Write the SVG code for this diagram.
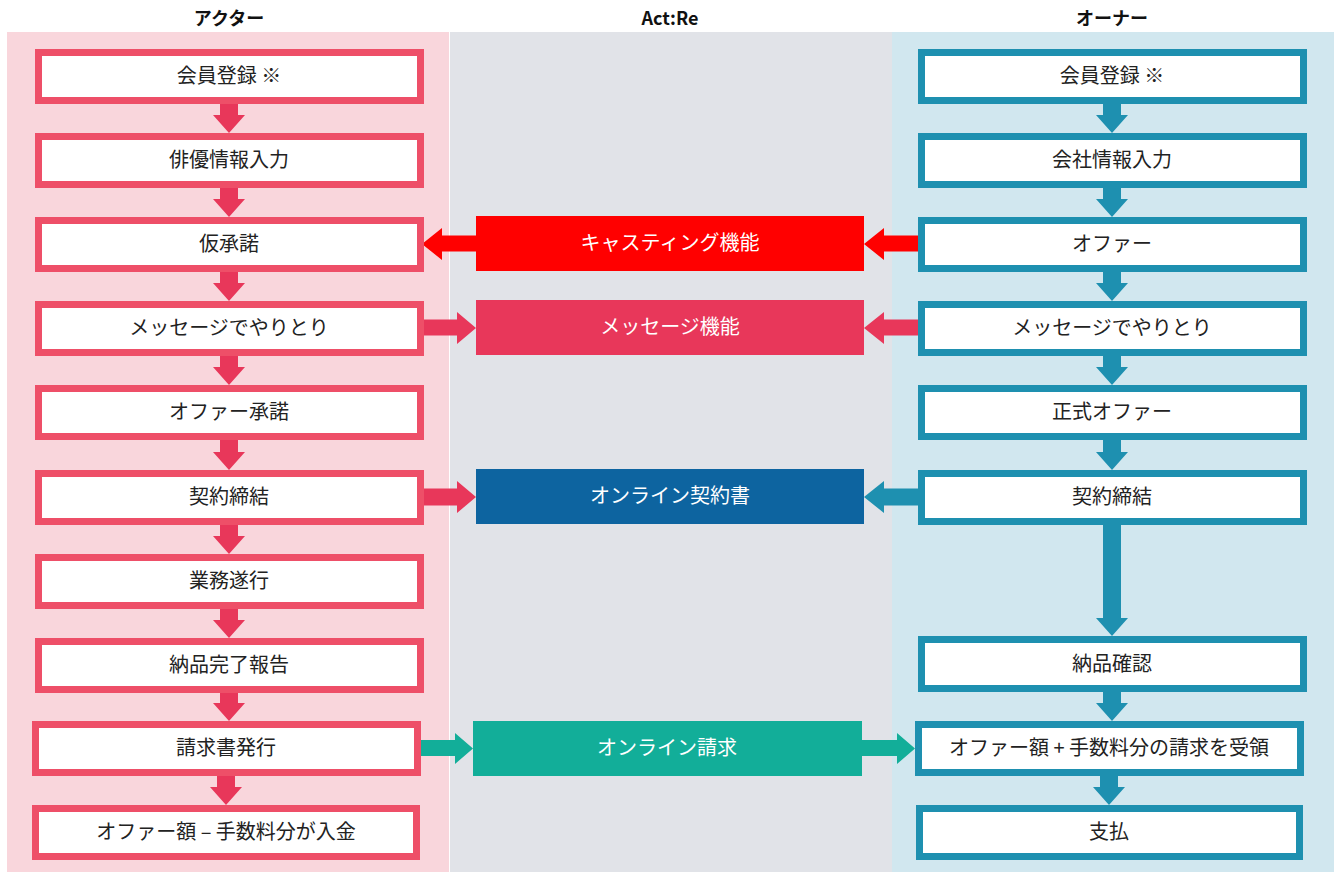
<svg xmlns="http://www.w3.org/2000/svg" width="1338" height="872" viewBox="0 0 1338 872">
<style>
.t{font-family:"Noto Sans CJK JP","Noto Sans",sans-serif;font-size:20px;fill:#222;text-anchor:middle}
.w{font-family:"Noto Sans CJK JP","Noto Sans",sans-serif;font-size:20px;fill:#fff;text-anchor:middle}
.h{font-family:"Noto Sans CJK JP","Liberation Sans",sans-serif;font-size:18px;font-weight:bold;fill:#111;text-anchor:middle}
.a rect{fill:#fff;stroke:#EE4F68;stroke-width:7}
.o rect{fill:#fff;stroke:#1E90B0;stroke-width:7}
</style>
<rect width="1338" height="872" fill="#fff"/>
<rect x="7" y="32" width="442" height="840" fill="#F9D6DC"/>
<rect x="450" y="32" width="442" height="840" fill="#E1E3E8"/>
<rect x="892" y="32" width="442" height="840" fill="#D1E7EF"/>
<text class="h" x="229" y="25">アクター</text>
<text class="h" x="670" y="25">Act:Re</text>
<text class="h" x="1112" y="25">オーナー</text>

<g id="connectors">
<g fill="#E8375A">
<polygon points="220,103 238,103 238,115 245,115 229,133 213,115 220,115"/>
<polygon points="220,188 238,188 238,199 245,199 229,217 213,199 220,199"/>
<polygon points="220,272 238,272 238,283 245,283 229,301 213,283 220,283"/>
<polygon points="220,356 238,356 238,367 245,367 229,385 213,367 220,367"/>
<polygon points="220,440 238,440 238,452 245,452 229,470 213,452 220,452"/>
<polygon points="220,525 238,525 238,536 245,536 229,554 213,536 220,536"/>
<polygon points="220,609 238,609 238,620 245,620 229,638 213,620 220,620"/>
<polygon points="220,693 238,693 238,703 245,703 229,721 213,703 220,703"/>
<polygon points="217,776 235,776 235,787 242,787 226,805 210,787 217,787"/>
<polygon points="424,319.5 457,319.5 457,312 476,328 457,344 457,335.5 424,335.5"/>
<polygon points="919,319.5 884,319.5 884,312 864,328 884,344 884,335.5 919,335.5"/>
<polygon points="424,488.5 457,488.5 457,481 476,497 457,513 457,505.5 424,505.5"/>
</g>
<g fill="#1E90B0">
<polygon points="1103,103 1121,103 1121,115 1128,115 1112,133 1096,115 1103,115"/>
<polygon points="1103,188 1121,188 1121,199 1128,199 1112,217 1096,199 1103,199"/>
<polygon points="1103,272 1121,272 1121,283 1128,283 1112,301 1096,283 1103,283"/>
<polygon points="1103,356 1121,356 1121,367 1128,367 1112,385 1096,367 1103,367"/>
<polygon points="1103,440 1121,440 1121,452 1128,452 1112,470 1096,452 1103,452"/>
<polygon points="1103,525 1121,525 1121,618 1128,618 1112,636 1096,618 1103,618"/>
<polygon points="1103,692 1121,692 1121,703 1128,703 1112,721 1096,703 1103,703"/>
<polygon points="1100,776 1118,776 1118,787 1125,787 1109,805 1093,787 1100,787"/>
<polygon points="919,488.5 884,488.5 884,481 864,497 884,513 884,505.5 919,505.5"/>
</g>
<g fill="#FF0000">
<polygon points="476,235.5 442,235.5 442,228 422,244 442,260 442,251.5 476,251.5"/>
<polygon points="919,235.5 884,235.5 884,228 864,244 884,260 884,251.5 919,251.5"/>
</g>
<g fill="#12AE99">
<polygon points="421,740 455,740 455,733 473,748.5 455,764 455,756 421,756"/>
<polygon points="862,740 897,740 897,733 915,748.5 897,764 897,756 862,756"/>
</g>
</g>

<g id="a1" class="a"><rect x="38.5" y="52.5" width="382" height="48"/><text class="t" x="229" y="83">会員登録 ※</text></g>
<g id="a2" class="a"><rect x="38.5" y="136.5" width="382" height="48"/><text class="t" x="229" y="167">俳優情報入力</text></g>
<g id="a3" class="a"><rect x="38.5" y="220.5" width="382" height="48"/><text class="t" x="229" y="251">仮承諾</text></g>
<g id="a4" class="a"><rect x="38.5" y="304.5" width="382" height="48"/><text class="t" x="229" y="335">メッセージでやりとり</text></g>
<g id="a5" class="a"><rect x="38.5" y="388.5" width="382" height="48"/><text class="t" x="229" y="419">オファー承諾</text></g>
<g id="a6" class="a"><rect x="38.5" y="473.5" width="382" height="48"/><text class="t" x="229" y="504">契約締結</text></g>
<g id="a7" class="a"><rect x="38.5" y="557.5" width="382" height="48"/><text class="t" x="229" y="588">業務遂行</text></g>
<g id="a8" class="a"><rect x="38.5" y="641.5" width="382" height="48"/><text class="t" x="229" y="672">納品完了報告</text></g>
<g id="a9" class="a"><rect x="35.5" y="724.5" width="382" height="48"/><text class="t" x="226" y="755">請求書発行</text></g>
<g id="a10" class="a"><rect x="35.5" y="808.5" width="381" height="48"/><text class="t" x="226" y="839">オファー額 – 手数料分が入金</text></g>

<g id="m1"><rect x="476" y="216" width="388" height="55" fill="#FF0000"/><text class="w" x="670" y="250">キャスティング機能</text></g>
<g id="m2"><rect x="476" y="300" width="388" height="55" fill="#E8375A"/><text class="w" x="670" y="334">メッセージ機能</text></g>
<g id="m3"><rect x="476" y="469" width="388" height="55" fill="#0D64A0"/><text class="w" x="670" y="503">オンライン契約書</text></g>
<g id="m4"><rect x="473" y="721" width="389" height="55" fill="#12AE99"/><text class="w" x="667" y="755">オンライン請求</text></g>

<g id="o1" class="o"><rect x="921.5" y="52.5" width="382" height="48"/><text class="t" x="1112" y="83">会員登録 ※</text></g>
<g id="o2" class="o"><rect x="921.5" y="136.5" width="382" height="48"/><text class="t" x="1112" y="167">会社情報入力</text></g>
<g id="o3" class="o"><rect x="921.5" y="220.5" width="382" height="48"/><text class="t" x="1112" y="251">オファー</text></g>
<g id="o4" class="o"><rect x="921.5" y="304.5" width="382" height="48"/><text class="t" x="1112" y="335">メッセージでやりとり</text></g>
<g id="o5" class="o"><rect x="921.5" y="388.5" width="382" height="48"/><text class="t" x="1112" y="419">正式オファー</text></g>
<g id="o6" class="o"><rect x="921.5" y="473.5" width="382" height="48"/><text class="t" x="1112" y="504">契約締結</text></g>
<g id="o7" class="o"><rect x="921.5" y="639.5" width="382" height="49"/><text class="t" x="1112" y="671">納品確認</text></g>
<g id="o8" class="o"><rect x="918.5" y="724.5" width="382" height="48"/><text class="t" x="1109" y="755">オファー額 + 手数料分の請求を受領</text></g>
<g id="o9" class="o"><rect x="919.5" y="808.5" width="380" height="48"/><text class="t" x="1109" y="839">支払</text></g>
</svg>
